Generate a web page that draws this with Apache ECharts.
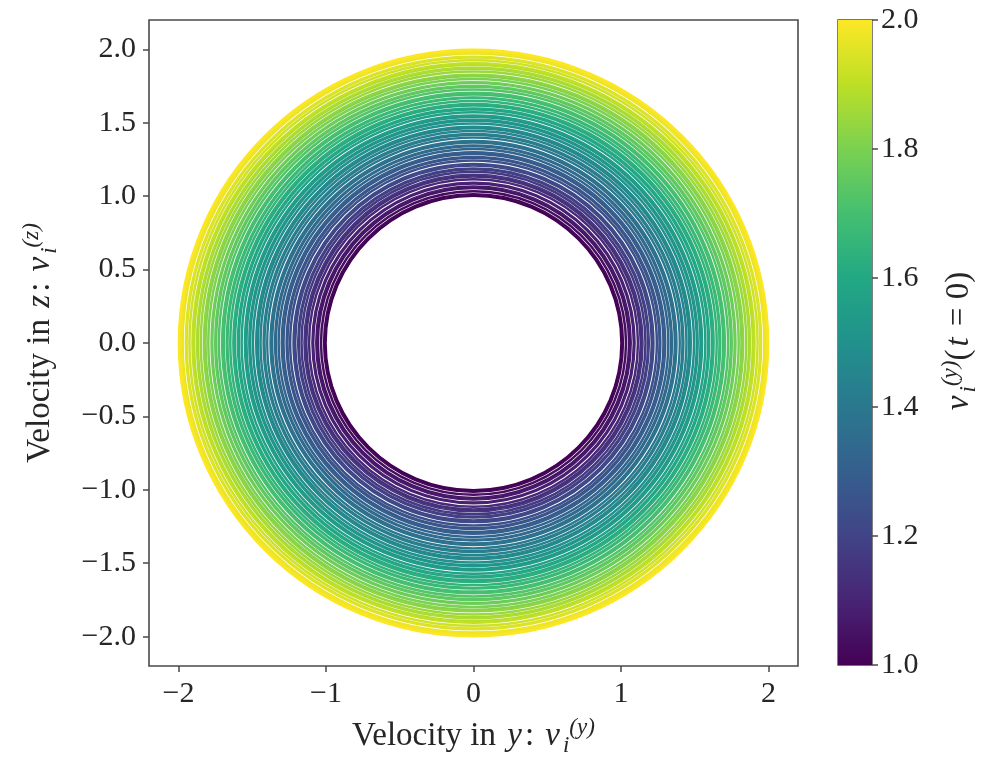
<!DOCTYPE html>
<html>
<head>
<meta charset="utf-8">
<script src="https://cdn.jsdelivr.net/npm/echarts@6/dist/echarts.min.js"></script>
<style>
  html, body { margin: 0; padding: 0; background: #fff; }
  #chart { width: 990px; height: 772px; }
</style>
</head>
<body>
<div id="chart"></div>
<script>
// radius of each velocity circle, |v_i| at t = 0
const radii = [
  1.000, 1.005, 1.011, 1.016, 1.031, 1.037, 1.052, 1.058, 1.063, 1.069,
  1.084, 1.090, 1.095, 1.112, 1.118, 1.131, 1.137, 1.142, 1.149, 1.163,
  1.169, 1.181, 1.186, 1.192, 1.206, 1.212, 1.218, 1.223, 1.240, 1.246,
  1.258, 1.264, 1.270, 1.285, 1.290, 1.297, 1.303, 1.318, 1.324, 1.337,
  1.343, 1.348, 1.362, 1.368, 1.374, 1.379, 1.396, 1.401, 1.414, 1.420,
  1.426, 1.441, 1.447, 1.459, 1.465, 1.471, 1.476, 1.492, 1.498, 1.511,
  1.517, 1.523, 1.536, 1.542, 1.547, 1.553, 1.569, 1.575, 1.588, 1.594,
  1.600, 1.614, 1.620, 1.625, 1.631, 1.646, 1.652, 1.665, 1.671, 1.676,
  1.690, 1.696, 1.702, 1.707, 1.723, 1.729, 1.742, 1.748, 1.754, 1.768,
  1.774, 1.779, 1.795, 1.801, 1.814, 1.820, 1.826, 1.831, 1.846, 1.852,
  1.865, 1.871, 1.877, 1.891, 1.897, 1.903, 1.908, 1.923, 1.929, 1.942,
  1.948, 1.953, 1.969, 1.975, 1.980, 1.986, 1.991, 1.996, 2.000
];

const xTicks = [-2, -1, 0, 1, 2];
const yTicks = [-2.0, -1.5, -1.0, -0.5, 0.0, 0.5, 1.0, 1.5, 2.0];
const cbTicks = [1.0, 1.2, 1.4, 1.6, 1.8, 2.0];
const axisRange = [-2.2, 2.2];
const cbRange = [1.0, 2.0];

// viridis
const viridis = [
  '#440154', '#482475', '#414487', '#355f8d', '#2a788e', '#21918c',
  '#22a884', '#44bf70', '#7ad151', '#bddf26', '#fde725'
];

const FONT = '"Liberation Serif", serif';
const AXIS_COLOR = '#4a4a4a';
const TEXT_COLOR = '#262626';

const fmt = (v, d) => (v < 0 ? '\u2212' : '') + Math.abs(v).toFixed(d);

const chart = echarts.init(document.getElementById('chart'));

const mathRich = {
  it: { fontFamily: FONT, fontStyle: 'italic', fontSize: 33, color: TEXT_COLOR, padding: [0, 3, 0, 3] },
  sub: { fontFamily: FONT, fontStyle: 'italic', fontSize: 23, color: TEXT_COLOR, padding: [18, 0, 0, 0] },
  sup: { fontFamily: FONT, fontStyle: 'italic', fontSize: 23, color: TEXT_COLOR, padding: [0, 0, 18, 0] }
};

const tickStyle = { show: true, length: 6, lineStyle: { color: AXIS_COLOR, width: 1.5 } };
const labelStyle = { color: TEXT_COLOR, fontFamily: FONT, fontSize: 30, margin: 13 };
const nameStyle = { color: TEXT_COLOR, fontFamily: FONT, fontSize: 33, rich: mathRich };

const option = {
  animation: false,
  backgroundColor: '#fff',
  grid: [
    { left: 149, top: 20, width: 649, height: 646, show: true, borderColor: AXIS_COLOR, borderWidth: 1.6, backgroundColor: 'transparent' },
    { left: 838, top: 20, width: 34, height: 645, show: true, borderColor: AXIS_COLOR, borderWidth: 1.4, backgroundColor: 'transparent' }
  ],
  visualMap: {
    type: 'continuous',
    show: false,
    min: cbRange[0],
    max: cbRange[1],
    dimension: 0,
    seriesIndex: 0,
    inRange: { color: viridis }
  },
  xAxis: [
    {
      type: 'value',
      gridIndex: 0,
      min: axisRange[0],
      max: axisRange[1],
      axisLine: { show: false, onZero: false },
      splitLine: { show: false },
      axisTick: Object.assign({ customValues: xTicks }, tickStyle),
      axisLabel: Object.assign({ customValues: xTicks, formatter: v => fmt(v, 0) }, labelStyle),
      name: 'Velocity in {it|y}: {it|v}{sub|i}{sup|(y)}',
      nameLocation: 'middle',
      nameGap: 50,
      nameTextStyle: nameStyle
    },
    { type: 'value', gridIndex: 1, min: 0, max: 1, show: false }
  ],
  yAxis: [
    {
      type: 'value',
      gridIndex: 0,
      min: axisRange[0],
      max: axisRange[1],
      axisLine: { show: false, onZero: false },
      splitLine: { show: false },
      axisTick: Object.assign({ customValues: yTicks }, tickStyle),
      axisLabel: Object.assign({ customValues: yTicks, formatter: v => fmt(v, 1) }, labelStyle),
      name: 'Velocity in {it|z}: {it|v}{sub|i}{sup|(z)}',
      nameLocation: 'middle',
      nameRotate: 90,
      nameGap: 88,
      nameTextStyle: nameStyle
    },
    {
      type: 'value',
      gridIndex: 1,
      position: 'right',
      min: cbRange[0],
      max: cbRange[1],
      axisLine: { show: false, onZero: false },
      splitLine: { show: false },
      axisTick: Object.assign({ customValues: cbTicks }, tickStyle),
      axisLabel: Object.assign({ customValues: cbTicks, formatter: v => fmt(v, 1) }, labelStyle, { margin: 9 }),
      name: '{it|v}{sub|i}{sup|(y)}({it|t} = 0)',
      nameLocation: 'middle',
      nameRotate: 90,
      nameGap: 67,
      nameTextStyle: nameStyle
    }
  ],
  series: [
    {
      type: 'custom',
      xAxisIndex: 0,
      yAxisIndex: 0,
      coordinateSystem: 'cartesian2d',
      data: radii.map(r => [r, 0]),
      encode: { x: 0, y: 1 },
      renderItem: (params, api) => {
        const r = api.value(0);
        const c = api.coord([0, 0]);
        const s = api.size([r, r]);
        return {
          type: 'ellipse',
          shape: { cx: c[0], cy: c[1], rx: s[0], ry: s[1] },
          style: { fill: 'none', stroke: api.visual('color'), lineWidth: 1.6 }
        };
      }
    },
    {
      // colorbar
      type: 'custom',
      xAxisIndex: 1,
      yAxisIndex: 1,
      coordinateSystem: 'cartesian2d',
      data: [[0, cbRange[0], 1, cbRange[1]]],
      encode: { x: [0, 2], y: [1, 3] },
      renderItem: (params, api) => {
        const p0 = api.coord([api.value(0), api.value(1)]);
        const p1 = api.coord([api.value(2), api.value(3)]);
        const stops = viridis.map((c, i) => ({ offset: 1 - i / (viridis.length - 1), color: c }));
        return {
          type: 'rect',
          shape: { x: p0[0], y: p1[1], width: p1[0] - p0[0], height: p0[1] - p1[1] },
          style: { fill: new echarts.graphic.LinearGradient(0, 0, 0, 1, stops) }
        };
      }
    }
  ]
};

chart.setOption(option);
</script>
</body>
</html>
